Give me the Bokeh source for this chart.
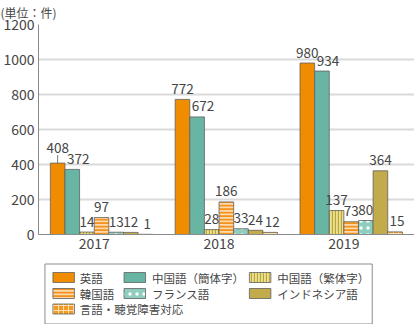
from bokeh.plotting import figure
from bokeh.models import Range1d, FixedTicker
from bokeh.layouts import column
from bokeh.core.properties import value
from bokeh.embed import file_html
from bokeh.resources import INLINE

# ---------------- data ----------------
years = ["2017", "2018", "2019"]
series_names = ["英語", "中国語（簡体字）", "中国語（繁体字）", "韓国語",
                "フランス語", "インドネシア語", "言語・聴覚障害対応"]
english = [408, 772, 980]
chinese_simplified = [372, 672, 934]
chinese_traditional = [14, 28, 137]
korean = [97, 186, 73]
french = [13, 33, 80]
indonesian = [12, 24, 364]
sign_language = [1, 12, 15]
series_values = [english, chinese_simplified, chinese_traditional, korean,
                 french, indonesian, sign_language]
y_ticks = [0, 200, 400, 600, 800, 1000, 1200]
unit_label = "(単位：件)"

# ---------------- styles ----------------
# (fill, hatch pattern, hatch colour, hatch scale, hatch weight)
styles = [
    ("#f08c00", " ", None, 6, 1),
    ("#69b5a4", " ", None, 6, 1),
    ("#ece08e", "|", "#b9a53e", 3, 1.3),
    ("#fdd9ae", "-", "#f2921c", 3.5, 2),
    ("#8fcdbf", ".", "#ffffff", 7, 2),
    ("#c2ab4a", " ", None, 6, 1),
    ("#f39a22", "+", "#fde0b8", 5, 1),
]
label_dx = [0, 6, 0, 0, 0, 0, 2]   # px nudges of the value labels per series
FONT = "Noto Sans CJK JP"
TXT = "#454545"

W, H = 414, 262
FL, FT, FB = 36, 24, 28
FH = H - FT - FB
CAT_PX = 125.5
FIRST_CAT_PX = 92
BAR_PX = 14.7
x_start = -(FIRST_CAT_PX - FL) / CAT_PX
x_end = x_start + (W - FL) / CAT_PX
bw = BAR_PX / CAT_PX
upx = 1200 / FH            # data units per screen pixel (y)
LABEL_GAP = 10.5           # px from bar top to label centre

p = figure(width=W, height=H, output_backend="svg", toolbar_location=None,
           x_range=Range1d(x_start, x_end), y_range=Range1d(0, 1200),
           min_border_left=FL, min_border_top=FT, min_border_bottom=FB,
           min_border_right=0, title=unit_label)
p.title.align = "left"
p.title.vertical_align = "top"
p.title.offset = -FL - 2
p.title.text_font = FONT
p.title.text_font_size = "12px"
p.title.text_font_style = "normal"
p.title.text_color = TXT
p.title.standoff = 4
p.outline_line_color = None
p.xgrid.visible = False
p.ygrid.grid_line_color = "#dadada"
p.ygrid.grid_line_width = 2
p.yaxis.ticker = FixedTicker(ticks=y_ticks)
p.xaxis.ticker = FixedTicker(ticks=list(range(len(years))))
p.xaxis.major_label_overrides = {i: y for i, y in enumerate(years)}
for ax in (p.xaxis, p.yaxis):
    ax.axis_line_color = "#8a8a8a"
    ax.axis_line_width = 1
    ax.major_tick_line_color = None
    ax.minor_tick_line_color = None
    ax.major_tick_in = 0
    ax.major_tick_out = 0
    ax.major_label_text_font = FONT
    ax.major_label_text_font_size = "14px"
    ax.major_label_text_color = TXT
p.yaxis.major_label_standoff = 4
p.xaxis.major_label_standoff = 3

for i, vals in enumerate(series_values):
    fill, hp, hc, hs, hw = styles[i]
    xs = [k + (i - 2.5) * bw for k in range(len(years))]
    kw = dict(x=xs, top=vals, width=bw, fill_color=fill,
              line_color="#5f5f5f", line_width=0.8)
    if hp.strip():
        kw.update(hatch_pattern=value(hp), hatch_color=hc,
                  hatch_scale=hs, hatch_weight=hw)
    p.vbar(**kw)
    lift = [0.0] * len(vals)
    if i == 0:
        lift[0] = 5.0
        p.segment(x0=[xs[0]], y0=[vals[0]], x1=[xs[0]],
                  y1=[vals[0] + 8 * upx], line_color="#7a7a7a", line_width=1)
    lx = [x + label_dx[i] / CAT_PX for x in xs]
    ly = [v + (LABEL_GAP + l) * upx for v, l in zip(vals, lift)]
    p.text(x=lx, y=ly, text=[str(v) for v in vals],
           text_font=value(FONT), text_font_size="13.5px", text_color=TXT,
           text_align="center", text_baseline="middle")

# ---------------- legend (drawn as its own small figure) ----------------
# frame aligned with the chart frame above: x data units == canvas pixels
LH = 62
leg = figure(width=W, height=LH, output_backend="svg", toolbar_location=None,
             x_range=Range1d(FL, W), y_range=Range1d(LH, 0),
             x_axis_location=None, y_axis_location=None, min_border=0,
             min_border_left=FL, min_border_right=0)
leg.grid.visible = False
leg.outline_line_color = None
leg.quad(left=[42.5], right=[371.5], top=[1.5], bottom=[LH - 0.5],
         fill_color=None, line_color="#8c8c8c", line_width=1)
col_swatch = [50.5, 122, 248]
col_text = [77.5, 150, 276]
row_y = [15, 31, 46.5]
for j, name in enumerate(series_names):
    r, c = divmod(j, 3)
    fill, hp, hc, hs, hw = styles[j]
    kw = dict(x=[col_swatch[c] + 10.8], y=[row_y[r]], width=21.6, height=10,
              fill_color=fill, line_color="#5f5f5f", line_width=0.8)
    if hp.strip():
        kw.update(hatch_pattern=value(hp), hatch_color=hc,
                  hatch_scale=hs, hatch_weight=hw)
    leg.rect(**kw)
    leg.text(x=[col_text[c]], y=[row_y[r]], text=[name],
             text_font=value(FONT), text_font_size="11.5px", text_color=TXT,
             text_align="left", text_baseline="middle")

layout = column(p, leg, spacing=0)
open("out.html", "w").write(file_html(layout, INLINE))
